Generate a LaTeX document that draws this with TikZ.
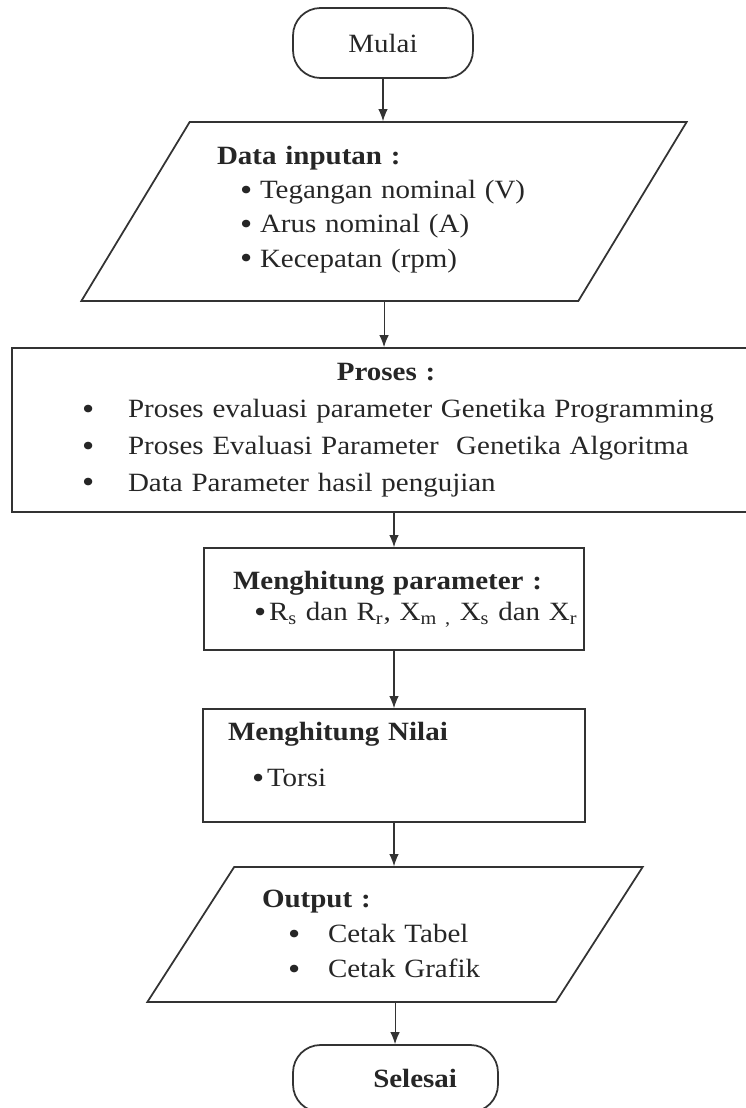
\documentclass[tikz,border=0pt]{standalone}
\usepackage{fontspec}
\setmainfont{Liberation Serif}[FakeStretch=1.1]
\usetikzlibrary{shapes.geometric, arrows.meta}

\newcommand{\butir}[2][0.4cm]{\mbox{\makebox[#1][l]{\raisebox{-0.15ex}{\scalebox{1.2}{\textbullet}}}#2}}

\begin{document}
\begin{tikzpicture}[
    x=0.02cm, y=-0.02cm,
    garis/.style={draw=black!80, line width=1pt},
    terminal/.style={rectangle, garis, rounded corners=0.55cm, align=center},
    io/.style={trapezium, garis, trapezium stretches=true, align=left},
    box/.style={rectangle, garis, align=left},
    arrow/.style={-{Latex[length=2.4mm, width=1.9mm]}, draw=black!80, line width=0.6pt},
    every node/.style={text=black!85, font=\fontsize{15}{20}\selectfont}
]
\useasboundingbox (0,0) rectangle (746,1108);

% Start
\node[terminal, minimum width=3.6cm, minimum height=1.4cm] (mulai) at (383,43) {Mulai};

% Input
\node[io, trapezium left angle=56, trapezium right angle=124, minimum width=12.16cm,
      minimum height=3.58cm, text width=6.68cm, font=\fontsize{15}{19.5}\selectfont] (data) at (384,211.5)
  {\textbf{Data inputan :}\\
   \hspace*{0.46cm}\butir{Tegangan nominal (V)}\\
   \hspace*{0.46cm}\butir{Arus nominal (A)}\\
   \hspace*{0.46cm}\butir{Kecepatan (rpm)}\rule[-0.2cm]{0pt}{0pt}};

% Process
\node[box, text width=13.2cm, inner xsep=1.4cm, minimum height=3.28cm,
      font=\fontsize{15}{21}\selectfont] (proses) at (412,430)
  {\makebox[12.16cm]{\textbf{Proses :}}\\
   \butir[0.92cm]{Proses evaluasi parameter Genetika Programming}\\
   \butir[0.92cm]{Proses Evaluasi Parameter\ \ Genetika Algoritma}\\
   \butir[0.92cm]{Data Parameter hasil pengujian}};

% Calculations
\node[box, minimum width=7.6cm, minimum height=2.04cm, inner xsep=0.58cm, text width=6.44cm,
      font=\fontsize{15}{18}\selectfont] (mp) at (394,599)
  {\textbf{Menghitung parameter :}\\
   \hspace*{0.42cm}\butir[0.3cm]{R\textsubscript{s} dan R\textsubscript{r}, X\textsubscript{m ,} X\textsubscript{s} dan X\textsubscript{r}}};
\node[box, minimum width=7.64cm, minimum height=2.26cm, inner xsep=0.5cm, text width=6.64cm] (mn) at (394,765.5)
  {\textbf{Menghitung Nilai}\\[6pt]
   \hspace*{0.48cm}\butir[0.3cm]{Torsi}\rule[-0.44cm]{0pt}{0pt}};

% Output
\node[io, trapezium left angle=53.5, trapezium right angle=126.5, minimum width=9.92cm,
      minimum height=2.7cm, text width=5.32cm] (output) at (395,934.5)
  {\textbf{Output :}\\
   \hspace*{0.52cm}\butir[0.8cm]{Cetak Tabel}\\
   \hspace*{0.52cm}\butir[0.8cm]{Cetak Grafik}};

% End
\node[terminal, minimum width=4.1cm, minimum height=1.34cm, text width=2.46cm, align=right] (selesai) at (395.5,1078.5) {\textbf{Selesai}};

% Arrows
\draw[arrow] (mulai.south) -- (mulai.south |- data.north);
\draw[arrow] (data.south) -- (data.south |- proses.north);
\draw[arrow] (proses.south -| mp.north) -- (mp.north);
\draw[arrow] (mp.south) -- (mn.north);
\draw[arrow] (mn.south) -- (mn.south |- output.north);
\draw[arrow] (output.south) -- (output.south |- selesai.north);

\end{tikzpicture}
\end{document}
